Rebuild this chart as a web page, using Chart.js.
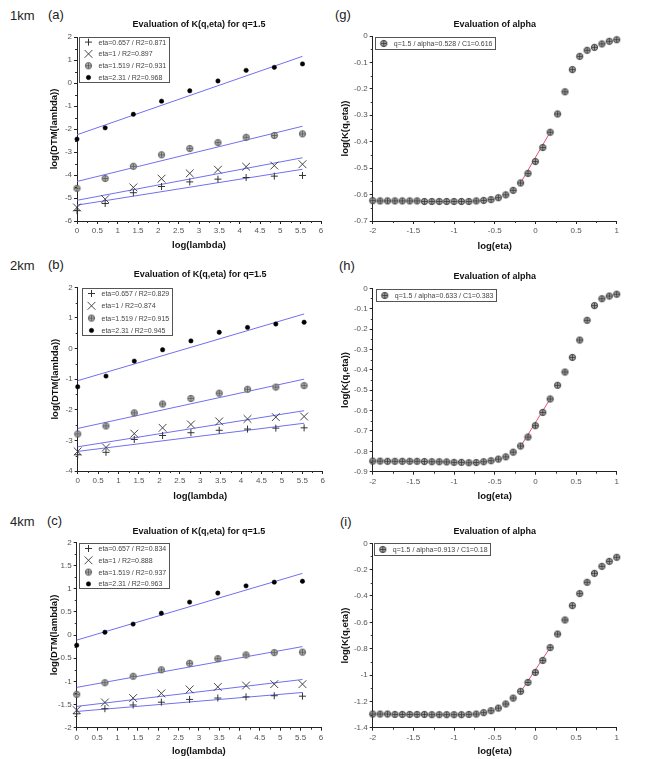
<!DOCTYPE html>
<html><head><meta charset="utf-8">
<script src="https://cdn.jsdelivr.net/npm/chart.js@4.4.1/dist/chart.umd.min.js"></script>
<style>
html,body{margin:0;padding:0;background:#fff}
body{width:658px;height:759px;position:relative;overflow:hidden;font-family:"Liberation Sans",Arial,sans-serif}
canvas{position:absolute}
.lab{position:absolute;font-size:13px;line-height:13px;color:#222;white-space:nowrap}
</style></head>
<body>
<div class="lab" style="left:10px;top:9px">1km</div>
<div class="lab" style="left:48px;top:8px">(a)</div>
<div class="lab" style="left:10px;top:259px">2km</div>
<div class="lab" style="left:48px;top:258px">(b)</div>
<div class="lab" style="left:10px;top:515px">4km</div>
<div class="lab" style="left:47px;top:514px">(c)</div>
<div class="lab" style="left:335px;top:8px">(g)</div>
<div class="lab" style="left:339px;top:259px">(h)</div>
<div class="lab" style="left:340px;top:515px">(i)</div>

<canvas id="ca" width="330" height="256" style="left:0;top:0"></canvas>
<canvas id="cg" width="328" height="256" style="left:330px;top:0"></canvas>
<canvas id="cb" width="330" height="256" style="left:0;top:250px"></canvas>
<canvas id="ch" width="328" height="256" style="left:330px;top:250px"></canvas>
<canvas id="cc" width="330" height="254" style="left:0;top:505px"></canvas>
<canvas id="ci" width="328" height="254" style="left:330px;top:505px"></canvas>

<script>
// ---------------- DATA ----------------
const lnLambda = [0, 0.693, 1.386, 2.079, 2.773, 3.466, 4.159, 4.852, 5.545];
const fitLambda = [0, 5.545];
const etaLabels = ['eta=0.657', 'eta=1', 'eta=1.519', 'eta=2.31'];
const r2_1km = ['0.871', '0.897', '0.931', '0.968'];
const r2_2km = ['0.829', '0.874', '0.915', '0.945'];
const r2_4km = ['0.834', '0.888', '0.937', '0.963'];

// 1 km, log(DTM(lambda)) for each eta
const dtm1km_eta0657 = [-5.55, -5.24, -4.77, -4.50, -4.30, -4.18, -4.11, -4.05, -4.02];
const dtm1km_eta1    = [-5.41, -5.05, -4.54, -4.16, -3.93, -3.77, -3.64, -3.59, -3.53];
const dtm1km_eta1519 = [-4.58, -4.15, -3.62, -3.12, -2.85, -2.59, -2.36, -2.28, -2.21];
const dtm1km_eta231  = [-2.44, -1.95, -1.36, -0.79, -0.34, 0.09, 0.55, 0.68, 0.83];
const fit1km_eta0657 = [-5.31, -3.75];
const fit1km_eta1    = [-5.10, -3.25];
const fit1km_eta1519 = [-4.28, -1.88];
const fit1km_eta231  = [-2.25, 1.16];

// 2 km
const dtm2km_eta0657 = [-3.47, -3.39, -2.97, -2.84, -2.75, -2.67, -2.63, -2.60, -2.59];
const dtm2km_eta1    = [-3.36, -3.23, -2.78, -2.59, -2.48, -2.38, -2.30, -2.24, -2.22];
const dtm2km_eta1519 = [-2.79, -2.53, -2.10, -1.81, -1.63, -1.46, -1.33, -1.26, -1.21];
const dtm2km_eta231  = [-1.25, -0.90, -0.41, -0.04, 0.25, 0.53, 0.69, 0.80, 0.86];
const fit2km_eta0657 = [-3.36, -2.44];
const fit2km_eta1    = [-3.21, -2.03];
const fit2km_eta1519 = [-2.61, -1.00];
const fit2km_eta231  = [-1.05, 1.13];

// 4 km
const dtm4km_eta0657 = [-1.70, -1.59, -1.51, -1.45, -1.39, -1.36, -1.335, -1.31, -1.32];
const dtm4km_eta1    = [-1.62, -1.455, -1.36, -1.26, -1.175, -1.12, -1.09, -1.06, -1.06];
const dtm4km_eta1519 = [-1.28, -1.03, -0.89, -0.75, -0.61, -0.51, -0.43, -0.38, -0.37];
const dtm4km_eta231  = [-0.22, 0.06, 0.235, 0.47, 0.71, 0.905, 1.06, 1.14, 1.16];
const fit4km_eta0657 = [-1.65, -1.24];
const fit4km_eta1    = [-1.54, -0.96];
const fit4km_eta1519 = [-1.13, -0.25];
const fit4km_eta231  = [-0.11, 1.33];

// alpha evaluation: log(eta) vs log(K(q,eta))
const logEta = [-2.000, -1.909, -1.818, -1.727, -1.636, -1.545, -1.455, -1.364, -1.273, -1.182, -1.091,
                -1.000, -0.909, -0.818, -0.727, -0.636, -0.545, -0.455, -0.364, -0.273, -0.182, -0.091,
                 0.000,  0.091,  0.182,  0.273,  0.364,  0.455,  0.545,  0.636,  0.727,  0.818,  0.909, 1.000];
const alphaFitEta = [-0.182, 0.182];

const logK1km = [-0.623, -0.624, -0.624, -0.624, -0.624, -0.624, -0.624, -0.626, -0.626, -0.626, -0.626,
                 -0.626, -0.626, -0.626, -0.624, -0.622, -0.619, -0.612, -0.601, -0.584, -0.556, -0.520,
                 -0.475, -0.422, -0.364, -0.295, -0.211, -0.127, -0.077, -0.054, -0.043, -0.030, -0.020, -0.014];
const alphaFit1km = [-0.556, -0.364];
const alphaLabel1km = 'q=1.5 / alpha=0.528 / C1=0.616';

const logK2km = [-0.848, -0.848, -0.849, -0.849, -0.849, -0.849, -0.849, -0.850, -0.851, -0.851, -0.852,
                 -0.854, -0.854, -0.856, -0.855, -0.851, -0.846, -0.838, -0.827, -0.804, -0.774, -0.730,
                 -0.674, -0.609, -0.543, -0.476, -0.411, -0.339, -0.254, -0.157, -0.085, -0.051, -0.038, -0.029];
const alphaFit2km = [-0.776, -0.543];
const alphaLabel2km = 'q=1.5 / alpha=0.633 / C1=0.383';

const logK4km = [-1.296, -1.296, -1.296, -1.299, -1.299, -1.299, -1.299, -1.299, -1.301, -1.301, -1.301,
                 -1.301, -1.301, -1.299, -1.296, -1.286, -1.271, -1.251, -1.220, -1.175, -1.124, -1.056,
                 -0.980, -0.889, -0.792, -0.689, -0.582, -0.473, -0.382, -0.296, -0.228, -0.175, -0.137, -0.106];
const alphaFit4km = [-1.129, -0.792];
const alphaLabel4km = 'q=1.5 / alpha=0.913 / C1=0.18';

// ---------------- STYLE ----------------
const FONT = '"Liberation Sans", Arial, Helvetica, sans-serif';
const BLUE = '#7070f0';
const RED = '#e8506e';

function circlePlusImg(fill, edge) {
  const c = document.createElement('canvas');
  c.width = 9; c.height = 9;
  const g = c.getContext('2d');
  g.beginPath(); g.arc(4.5, 4.5, 3.1, 0, Math.PI * 2);
  g.fillStyle = fill; g.fill();
  g.lineWidth = 1; g.strokeStyle = edge; g.stroke();
  g.beginPath();
  g.moveTo(1.6, 4.5); g.lineTo(7.4, 4.5);
  g.moveTo(4.5, 1.6); g.lineTo(4.5, 7.4);
  g.lineWidth = 0.8; g.stroke();
  return c;
}
const CPLUS_LEFT = circlePlusImg('#b4b4b4', '#555');
const CPLUS_RIGHT = circlePlusImg('#a8a8a8', '#333');

const MARK_PLUS  = {pointStyle: 'cross', pointRadius: 3.5, pointBorderColor: '#333', pointBackgroundColor: '#333', pointBorderWidth: 1};
const MARK_X     = {pointStyle: 'crossRot', pointRadius: 5.5, pointBorderColor: '#333', pointBackgroundColor: '#333', pointBorderWidth: 0.9};
const MARK_CPLUS = {pointStyle: CPLUS_LEFT, pointRadius: 4, pointBorderColor: '#333', pointBackgroundColor: '#999', pointBorderWidth: 1};
const MARK_CPLUS_R = {pointStyle: CPLUS_RIGHT, pointRadius: 4, pointBorderColor: '#333', pointBackgroundColor: '#999', pointBorderWidth: 1};
const MARK_DOT   = {pointStyle: 'circle', pointRadius: 2.2, pointBorderColor: '#000', pointBackgroundColor: '#000', pointBorderWidth: 0.5};

const fmt = v => String(Math.round(v * 1000) / 1000);

// legend drawn as a box inside the plot area
const boxLegend = {
  id: 'boxLegend',
  afterDraw(chart, args, o) {
    if (!o || !o.display) return;
    const ca = chart.chartArea, ctx = chart.ctx;
    const items = chart.data.datasets.filter(d => d.inLegend);
    ctx.save();
    ctx.font = o.fontSize + 'px ' + FONT;
    const tw = Math.max(...items.map(d => ctx.measureText(d.label).width));
    const x0 = Math.round(ca.left + o.dx) + 0.5, y0 = Math.round(ca.top + o.dy) + 0.5;
    const w = Math.round(o.textX + tw + o.padR);
    const h = Math.round(o.first * 2 + (items.length - 1) * o.rowH);
    ctx.fillStyle = '#fff';
    ctx.fillRect(x0, y0, w, h);
    ctx.strokeStyle = '#555'; ctx.lineWidth = 1;
    ctx.strokeRect(x0, y0, w, h);
    items.forEach((d, i) => {
      const cy = y0 + o.first + i * o.rowH;
      ctx.fillStyle = d.pointBackgroundColor;
      ctx.strokeStyle = d.pointBorderColor;
      ctx.lineWidth = d.pointBorderWidth;
      Chart.helpers.drawPoint(ctx, {pointStyle: d.pointStyle, radius: d.pointRadius, borderWidth: d.pointBorderWidth, rotation: 0}, x0 + o.symX, cy);
      ctx.fillStyle = '#444';
      ctx.textBaseline = 'middle';
      ctx.textAlign = 'left';
      ctx.fillText(d.label, x0 + o.textX, cy + 0.5);
    });
    ctx.restore();
  }
};

// small minor tick marks between the labelled ticks
const minorTicks = {
  id: 'minorTicks',
  afterDraw(chart, args, o) {
    if (!o || !o.display) return;
    const ctx = chart.ctx, xs = chart.scales.x, ys = chart.scales.y;
    ctx.save();
    ctx.strokeStyle = '#333'; ctx.lineWidth = 1;
    ctx.beginPath();
    const n = o.sub;
    for (let v = xs.min; v <= xs.max + 1e-9; v += o.xstep / n) {
      const k = Math.round((v - xs.min) / (o.xstep / n));
      if (k % n === 0) continue;
      const px = Math.round(xs.getPixelForValue(xs.min + k * o.xstep / n)) + 0.5;
      ctx.moveTo(px, xs.top); ctx.lineTo(px, xs.top + 2);
    }
    for (let v = ys.min; v <= ys.max + 1e-9; v += o.ystep / n) {
      const k = Math.round((v - ys.min) / (o.ystep / n));
      if (k % n === 0) continue;
      const py = Math.round(ys.getPixelForValue(ys.min + k * o.ystep / n)) + 0.5;
      ctx.moveTo(ys.right, py); ctx.lineTo(ys.right - 2, py);
    }
    ctx.stroke();
    ctx.restore();
  }
};

function axes(L) {
  const tickFont = {family: FONT, size: 8};
  const common = {
    type: 'linear',
    border: {display: true, color: '#222', width: 1},
    grid: {drawOnChartArea: false, drawTicks: true, tickLength: 3, color: '#222'}
  };
  return {
    x: Object.assign({}, common, {
      min: L.xmin, max: L.xmax,
      ticks: {stepSize: L.xstep, font: tickFont, color: '#555', padding: 2, autoSkip: false, maxRotation: 0, callback: fmt},
      title: {display: true, text: L.xTitle, font: {family: FONT, size: 9.5, weight: 'bold'}, color: '#111', padding: {top: 0, bottom: 0}},
      afterFit: s => { s.height = L.xH; }
    }),
    y: Object.assign({}, common, {
      min: L.ymin, max: L.ymax,
      ticks: {stepSize: L.ystep, font: tickFont, color: '#555', padding: 2, autoSkip: false, callback: fmt},
      title: {display: true, text: L.yTitle, font: {family: FONT, size: 9.5, weight: 'bold'}, color: '#111', padding: {top: L.yTitlePad, bottom: 0}},
      afterFit: s => { s.width = L.yW; }
    })
  };
}

function build(id, datasets, L) {
  new Chart(document.getElementById(id), {
    type: 'scatter',
    data: {datasets},
    options: {
      responsive: false,
      animation: false,
      events: [],
      layout: {padding: {left: L.pl, right: L.pr, top: 0, bottom: L.pb}},
      scales: axes(L),
      plugins: {
        legend: {display: false},
        tooltip: {enabled: false},
        title: {display: true, text: L.title, fullSize: false, color: '#111',
                font: {family: FONT, size: 9, weight: 'bold'}, padding: {top: L.tpt, bottom: L.tpb}},
        boxLegend: L.legend,
        minorTicks: {display: true, sub: L.sub, xstep: L.xstep, ystep: L.ystep}
      }
    },
    plugins: [boxLegend, minorTicks]
  });
}

function lambdaDatasets(series, fits, r2) {
  const marks = [MARK_PLUS, MARK_X, MARK_CPLUS, MARK_DOT];
  const ds = [];
  series.forEach((ys, i) => {
    ds.push(Object.assign({
      label: etaLabels[i] + ' / R2=' + r2[i], inLegend: true, clip: false,
      data: lnLambda.map((x, j) => ({x, y: ys[j]}))
    }, marks[i]));
  });
  fits.forEach(f => {
    ds.push({label: 'fit', showLine: true, pointRadius: 0, borderColor: BLUE, borderWidth: 1, clip: false,
             data: fitLambda.map((x, j) => ({x, y: f[j]}))});
  });
  return ds;
}

function alphaDatasets(ys, fit, label) {
  return [
    Object.assign({label, inLegend: true, clip: false, data: logEta.map((x, j) => ({x, y: ys[j]}))}, MARK_CPLUS_R),
    {label: 'fit', showLine: true, pointRadius: 0, borderColor: RED, borderWidth: 1, clip: false,
     data: alphaFitEta.map((x, j) => ({x, y: fit[j]}))}
  ];
}

const leftLegend = (dx, dy, first, rowH) => ({display: true, fontSize: 7, dx, dy, first, rowH, symX: 9, textX: 19, padR: 3});
const rightLegend = (dx, dy) => ({display: true, fontSize: 7, dx, dy, first: 6, rowH: 12, symX: 8.3, textX: 18.3, padR: 3});

const LT = 'Evaluation of K(q,eta) for q=1.5';
const RT = 'Evaluation of alpha';

// (a) 1 km
build('ca', lambdaDatasets([dtm1km_eta0657, dtm1km_eta1, dtm1km_eta1519, dtm1km_eta231],
                           [fit1km_eta0657, fit1km_eta1, fit1km_eta1519, fit1km_eta231], r2_1km),
  {xmin: 0, xmax: 6, xstep: 0.5, ymin: -6, ymax: 2, ystep: 1, sub: 2, xTitle: 'log(lambda)', yTitle: 'log(DTM(lambda))',
   title: LT, yW: 36, xH: 29.7, pl: 41, pr: 9, pb: 256 - 221 - 29.7, tpt: 19.6, tpb: 6.6, yTitlePad: 8,
   legend: leftLegend(2, 0.3, 4.6, 11.8)});
// (b) 2 km
build('cb', lambdaDatasets([dtm2km_eta0657, dtm2km_eta1, dtm2km_eta1519, dtm2km_eta231],
                           [fit2km_eta0657, fit2km_eta1, fit2km_eta1519, fit2km_eta231], r2_2km),
  {xmin: 0, xmax: 6, xstep: 0.5, ymin: -4, ymax: 2, ystep: 1, sub: 2, xTitle: 'log(lambda)', yTitle: 'log(DTM(lambda))',
   title: LT, yW: 36, xH: 31.4, pl: 41.7, pr: 7.3, pb: 256 - 221 - 31.4, tpt: 19.6, tpb: 6.9, yTitlePad: 8,
   legend: leftLegend(4, 1, 5, 12.3)});
// (c) 4 km
build('cc', lambdaDatasets([dtm4km_eta0657, dtm4km_eta1, dtm4km_eta1519, dtm4km_eta231],
                           [fit4km_eta0657, fit4km_eta1, fit4km_eta1519, fit4km_eta231], r2_4km),
  {xmin: 0, xmax: 6, xstep: 0.5, ymin: -2, ymax: 2, ystep: 0.5, sub: 2, xTitle: 'log(lambda)', yTitle: 'log(DTM(lambda))',
   title: LT, yW: 36, xH: 29.7, pl: 40.7, pr: 9, pb: 254 - 222.7 - 29.7, tpt: 21.3, tpb: 5.2, yTitlePad: 7.5,
   legend: leftLegend(2, 0.4, 5, 11.8)});
// (g)
build('cg', alphaDatasets(logK1km, alphaFit1km, alphaLabel1km),
  {xmin: -2, xmax: 1, xstep: 0.5, ymin: -0.7, ymax: 0, ystep: 0.1, sub: 2, xTitle: 'log(eta)', yTitle: 'log(K(q,eta))',
   title: RT, yW: 36, xH: 30.7, pl: 6.7, pr: 41.3, pb: 256 - 221 - 30.7, tpt: 19.6, tpb: 5.6, yTitlePad: 2.6,
   legend: rightLegend(2.3, 1.3)});
// (h)
build('ch', alphaDatasets(logK2km, alphaFit2km, alphaLabel2km),
  {xmin: -2, xmax: 1, xstep: 0.5, ymin: -0.9, ymax: 0, ystep: 0.1, sub: 2, xTitle: 'log(eta)', yTitle: 'log(K(q,eta))',
   title: RT, yW: 36, xH: 30, pl: 6.7, pr: 41.3, pb: 256 - 221.7 - 30, tpt: 21.3, tpb: 6.2, yTitlePad: 3,
   legend: rightLegend(3, 1)});
// (i)
build('ci', alphaDatasets(logK4km, alphaFit4km, alphaLabel4km),
  {xmin: -2, xmax: 1, xstep: 0.5, ymin: -1.4, ymax: 0, ystep: 0.2, sub: 2, xTitle: 'log(eta)', yTitle: 'log(K(q,eta))',
   title: RT, yW: 36, xH: 29.7, pl: 6.7, pr: 41.3, pb: 254 - 222.7 - 29.7, tpt: 21.3, tpb: 6.2, yTitlePad: 2.6,
   legend: rightLegend(1.6, 0)});
</script>
</body></html>
